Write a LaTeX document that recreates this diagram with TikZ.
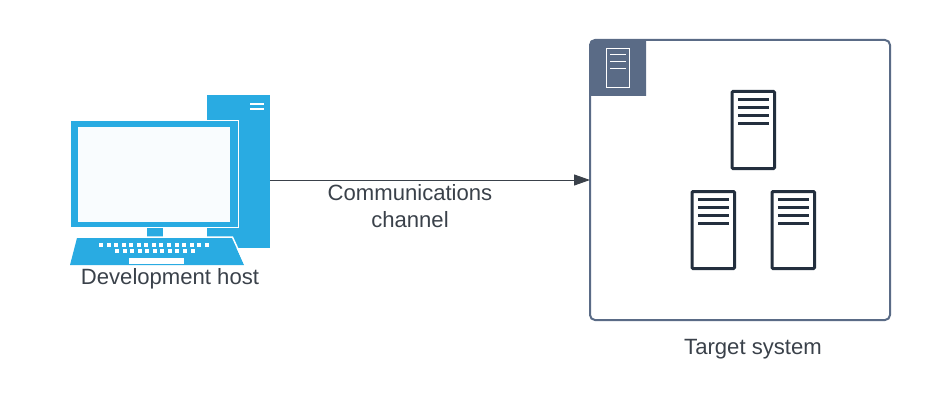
\documentclass[tikz,border=0pt]{standalone}
\usepackage{fontspec}
\setmainfont{Liberation Sans}
\usetikzlibrary{arrows.meta}
\definecolor{hostblue}{HTML}{29ABE2}
\definecolor{slate}{HTML}{5A6B86}
\definecolor{serverdark}{HTML}{232F3E}
\definecolor{labelgray}{HTML}{3A414A}
\tikzset{
	label/.style={text=labelgray, inner sep=0pt, align=center, font=\fontsize{22.1}{27}\selectfont},
	hostpart/.style={fill=hostblue, inner sep=0pt, outer sep=0pt},
	server/.style={draw=serverdark, fill=white, line width=3pt, rounded corners=1pt, minimum width=42.5pt, minimum height=77pt, inner sep=0pt},
}
\begin{document}
\begin{tikzpicture}[x=1pt,y=-1pt]
	\useasboundingbox (0,0) rectangle (930,420);

	% host
	\node[hostpart, minimum width=63pt, minimum height=153pt] (tower) at (238.5,171.5) {};
	\fill[white] (250,103) rectangle (264,105.5);
	\fill[white] (250,108) rectangle (264,110.5);
	\node[hostpart, draw=white, line width=1.2pt, minimum width=167.5pt, minimum height=107pt] (monitor) at (154.5,174) {};
	\node[fill=white!97!hostblue, inner sep=0pt, minimum width=152pt, minimum height=95pt] (screen) at (154,174.5) {};
	\node[hostpart, minimum width=16pt, minimum height=9pt] (neck) at (155,232.5) {};
	\fill[hostblue] (70,265) -- (77,238) -- (232,238) -- (244,265) -- cycle;
	\draw[white, line width=1.5pt] (77,237.2) -- (232.5,237.2) -- (244.8,264);
	\foreach \x in {0,...,14}
	    {
		\fill[white] (99+7.55*\x,243) rectangle +(4,4);
	    }
	\foreach \x in {0,...,10}
	    {
		\fill[white] (115+7.55*\x,249) rectangle +(4,4);
	    }
	\fill[white] (129,258) rectangle (184,264);
	\node[label] (hostlabel) at (170,279) {Development host};

	% target
	\node[draw=slate, line width=2pt, rounded corners=5pt, minimum width=300pt, minimum height=280pt, inner sep=0pt] (target) at (740,180) {};
	\fill[slate, rounded corners=3pt] (590,96) -- (590,40) -- (620,40) [sharp corners] -- (646,40) -- (646,96) -- cycle;
	\node[draw=white, line width=1pt, minimum width=23pt, minimum height=39pt, inner sep=0pt] (badge) at (618,68) {};
	\foreach \y in {54.5,61.5,68.5}
	    {
		\draw[white, line width=1pt] (610,\y) -- (626,\y);
	    }
	\foreach \x/\y/\s in {753.25/130/servera, 713.25/230/serverb, 793.25/230/serverc}
	    {
		\node[server] (\s) at (\x,\y) {};
		\foreach \d in {-30.5,-22.5,-14.5,-6.5}
		    {
			\draw[serverdark, line width=3pt] (\x-15.5,\y+\d) -- (\x+15.5,\y+\d);
		    }
	    }
	\node[label] (targetlabel) at (753,349) {Target system};

	% channel
	\draw[-{Triangle[length=16pt,width=11pt]}, labelgray, line width=1pt, shorten >=-1pt] (target.west -| tower.east) -- (target.west);
	\node[label] (channellabel) at (410,206) {Communications\\channel};
\end{tikzpicture}
\end{document}
